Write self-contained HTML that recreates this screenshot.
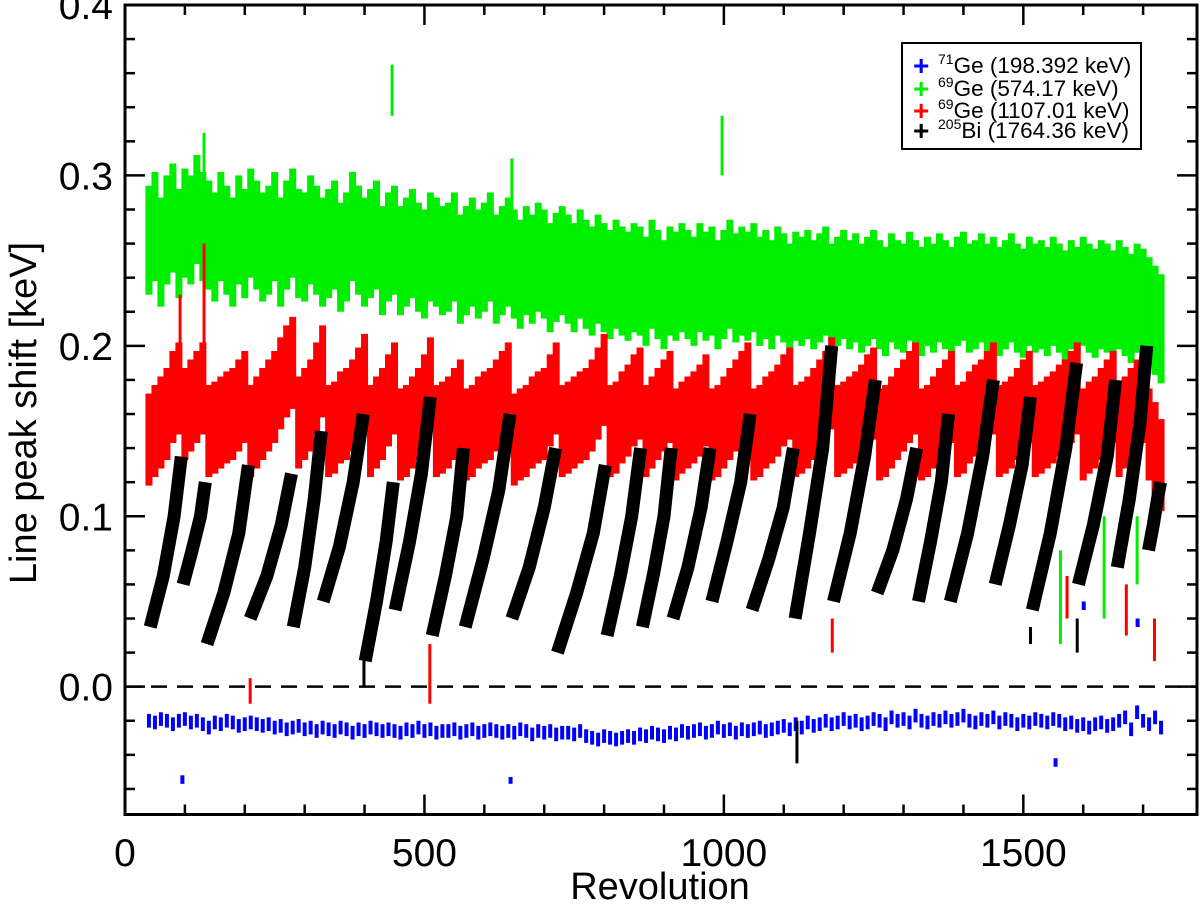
<!DOCTYPE html>
<html><head><meta charset="utf-8"><style>
html,body{margin:0;padding:0;background:#fff;}
svg{display:block;font-family:"Liberation Sans",Arial,sans-serif;}
.tl{font-size:39px;}
.ttl{font-size:38px;}
.lg{font-size:22.5px;}
.lgs{font-size:14px;}
.lgm{font-size:28px;font-weight:bold;}
</style></head><body>
<svg id="chart" width="1200" height="908" viewBox="0 0 1200 908" xmlns="http://www.w3.org/2000/svg">
<g id="series"></g>
<g id="axes"></g>
<text x="36" y="413" class="ttl" text-anchor="middle" transform="rotate(-90 36 413)">Line peak shift [keV]</text>
<text x="660" y="899" class="ttl" text-anchor="middle">Revolution</text>
<g>
<rect x="902" y="43" width="239" height="106" fill="#fff" stroke="#000" stroke-width="2"/>
<g><text x="913" y="75" fill="#0000ff" class="lgm">+</text><text x="938" y="73" class="lg"><tspan class="lgs" dy="-9">71</tspan><tspan dy="9">Ge (198.392 keV)</tspan></text></g>
<g><text x="913" y="98" fill="#00ee00" class="lgm">+</text><text x="938" y="96" class="lg"><tspan class="lgs" dy="-9">69</tspan><tspan dy="9">Ge (574.17 keV)</tspan></text></g>
<g><text x="913" y="120" fill="#ff0000" class="lgm">+</text><text x="938" y="118" class="lg"><tspan class="lgs" dy="-9">69</tspan><tspan dy="9">Ge (1107.01 keV)</tspan></text></g>
<g><text x="913" y="140" fill="#000" class="lgm">+</text><text x="938" y="138" class="lg"><tspan class="lgs" dy="-9">205</tspan><tspan dy="9">Bi (1764.36 keV)</tspan></text></g>
</g>
</svg>
<script>
const revs=[40,50,60,70,80,90,100,110,120,130,140,150,160,170,180,190,200,210,220,230,240,250,260,270,280,290,300,310,320,330,340,350,360,370,380,390,400,410,420,430,440,450,460,470,480,490,500,510,520,530,540,550,560,570,580,590,600,610,620,630,640,650,660,670,680,690,700,710,720,730,740,750,760,770,780,790,800,810,820,830,840,850,860,870,880,890,900,910,920,930,940,950,960,970,980,990,1000,1010,1020,1030,1040,1050,1060,1070,1080,1090,1100,1110,1120,1130,1140,1150,1160,1170,1180,1190,1200,1210,1220,1230,1240,1250,1260,1270,1280,1290,1300,1310,1320,1330,1340,1350,1360,1370,1380,1390,1400,1410,1420,1430,1440,1450,1460,1470,1480,1490,1500,1510,1520,1530,1540,1550,1560,1570,1580,1590,1600,1610,1620,1630,1640,1650,1660,1670,1680,1690,1700,1710,1720,1730];
const greenVals=[.262,.27,.255,.268,.275,.26,.272,.268,.28,.27,
.265,.258,.27,.262,.255,.268,.26,.272,.265,.258,
.262,.27,.255,.265,.272,.26,.258,.268,.262,.255,
.26,.265,.252,.258,.27,.262,.255,.26,.265,.25,
.258,.262,.25,.255,.26,.252,.248,.258,.255,.25,
.252,.258,.245,.25,.255,.248,.252,.258,.245,.25,
.255,.248,.242,.25,.245,.252,.248,.24,.246,.25,
.245,.24,.248,.242,.238,.245,.24,.236,.242,.238,
.235,.24,.238,.232,.242,.236,.23,.238,.235,.24,
.236,.232,.24,.235,.238,.23,.236,.242,.234,.238,
.235,.24,.232,.236,.23,.238,.234,.228,.235,.232,
.236,.23,.234,.238,.228,.232,.236,.23,.234,.228,
.232,.236,.23,.226,.234,.23,.228,.235,.23,.226,
.232,.228,.234,.23,.226,.232,.235,.228,.23,.234,
.228,.232,.226,.23,.234,.228,.225,.232,.228,.23,
.226,.232,.228,.224,.23,.226,.232,.228,.225,.23,
.228,.224,.23,.226,.222,.228,.225,.22,.215,.21];
const redVals=[.145,.15,.155,.16,.17,.175,.16,.165,.17,.175,
.15,.152,.155,.158,.16,.165,.17,.15,.155,.16,
.165,.17,.178,.185,.19,.155,.16,.165,.175,.185,
.15,.152,.158,.16,.165,.172,.18,.15,.155,.16,
.168,.175,.148,.15,.155,.16,.168,.178,.15,.152,
.155,.16,.165,.148,.15,.155,.158,.16,.165,.17,
.175,.145,.148,.15,.155,.158,.16,.168,.175,.15,
.152,.155,.158,.16,.165,.172,.18,.15,.152,.158,
.162,.168,.172,.15,.155,.16,.165,.17,.148,.152,
.155,.158,.162,.168,.148,.15,.155,.16,.165,.17,
.175,.148,.15,.155,.158,.162,.168,.172,.15,.152,
.155,.16,.165,.17,.178,.15,.152,.155,.158,.162,
.168,.172,.148,.15,.155,.16,.165,.17,.175,.148,
.15,.155,.16,.165,.17,.15,.152,.158,.162,.165,
.17,.175,.15,.152,.155,.16,.165,.17,.15,.152,
.155,.158,.162,.165,.17,.175,.148,.152,.155,.16,
.165,.17,.15,.155,.16,.165,.17,.148,.14,.13];
const blueVals=[-.02,-.021,-.019,-.02,-.022,-.02,-.019,-.021,-.02,-.022,
-.024,-.021,-.022,-.02,-.021,-.023,-.022,-.021,-.022,-.023,
-.022,-.024,-.023,-.025,-.024,-.023,-.025,-.024,-.026,-.024,
-.025,-.026,-.024,-.025,-.027,-.025,-.026,-.024,-.025,-.026,
-.025,-.026,-.027,-.025,-.026,-.024,-.026,-.025,-.027,-.026,
-.026,-.025,-.027,-.026,-.025,-.027,-.026,-.025,-.026,-.027,
-.026,-.027,-.025,-.026,-.028,-.026,-.027,-.026,-.028,-.027,
-.027,-.028,-.026,-.029,-.03,-.031,-.029,-.03,-.031,-.03,
-.029,-.03,-.028,-.029,-.027,-.028,-.029,-.027,-.028,-.026,
-.027,-.026,-.025,-.027,-.026,-.024,-.026,-.025,-.027,-.025,
-.026,-.025,-.024,-.026,-.025,-.024,-.023,-.025,-.022,-.024,
-.021,-.023,-.022,-.02,-.022,-.021,-.019,-.021,-.02,-.022,
-.021,-.019,-.02,-.022,-.018,-.02,-.019,-.021,-.017,-.02,
-.021,-.019,-.02,-.018,-.02,-.019,-.017,-.02,-.021,-.019,
-.02,-.018,-.021,-.019,-.02,-.022,-.02,-.021,-.019,-.02,
-.021,-.019,-.02,-.022,-.021,-.023,-.022,-.024,-.022,-.021,
-.023,-.022,-.02,-.018,-.025,-.015,-.02,-.022,-.018,-.024];
const blackRev=[42,64,82,94,null,97,112,126,134,null,137,165,190,206,null,209,237,261,278,null,281,300,316,328,null,331,358,381,398,null,401,420,436,448,null,451,475,495,510,null,513,535,554,565,null,568,598,624,643,null,646,675,700,719,null,722,754,782,802,null,805,827,846,861,null,864,883,900,912,null,915,940,962,977,null,980,1005,1028,1044,null,1047,1075,1099,1116,null,1119,1143,1165,1180,null,1183,1211,1235,1253,null,1256,1282,1305,1322,null,1325,1345,1363,1375,null,1378,1407,1432,1450,null,1453,1477,1498,1512,null,1515,1545,1571,1589,null,1592,1617,1640,1654,null,1657,1677,1695,1706,null,1709,1717,1724,1729];
const blackVal=[.035,.065,.1,.135,null,.06,.08,.1,.12,null,.025,.055,.09,.13,null,.04,.065,.095,.125,null,.035,.07,.11,.15,null,.05,.082,.12,.16,null,.015,.05,.085,.12,null,.045,.085,.125,.17,null,.03,.065,.1,.14,null,.035,.075,.115,.16,null,.04,.07,.105,.14,null,.02,.055,.09,.13,null,.03,.065,.1,.14,null,.035,.067,.1,.14,null,.04,.07,.105,.14,null,.05,.085,.12,.16,null,.045,.075,.105,.14,null,.04,.09,.14,.2,null,.05,.09,.135,.18,null,.055,.08,.11,.14,null,.05,.085,.12,.16,null,.05,.09,.135,.18,null,.06,.095,.13,.17,null,.045,.09,.14,.19,null,.06,.095,.135,.18,null,.07,.11,.155,.2,null,.08,.095,.11,.12];
const outRev=[446,997,646,132,92,132,209,509,1181,1719,1562,1573,1635,1512,1590,1122,399,1690,1672,95,643,1553,1600,1690];
const outLo=[.335,.3,.28,.28,.19,.2,-.01,-.01,.02,.015,.025,.04,.04,.025,.02,-.045,0,.06,.03,-.057,-.057,-.047,.045,.035];
const outHi=[.365,.335,.31,.325,.23,.26,.005,.025,.04,.04,.08,.065,.1,.035,.04,-.02,.025,.1,.06,-.052,-.053,-.042,.05,.04];
const outColor=["#00ee00","#00ee00","#00ee00","#00ee00","#ff0000","#ff0000","#ff0000","#ff0000","#ff0000","#ff0000","#00ee00","#ff0000","#00ee00","#000","#000","#000","#000","#00ee00","#ff0000","#0000ff","#0000ff","#0000ff","#0000ff","#0000ff"];
const xTicks=[0,500,1000,1500];
const yTicks=[0,0.1,0.2,0.3,0.4];
const yTickLabels=["0.0","0.1","0.2","0.3","0.4"];
const greenErr=0.032, redErr=0.027, blueErr=0.004;

const NS="http://www.w3.org/2000/svg";
const L=125,R=1197,T=5,B=814.5,XMAX=1790,YMIN=-0.075,YMAX=0.4;
function X(r){return L+(r/XMAX)*(R-L);}
function Y(v){return B-(v-YMIN)/(YMAX-YMIN)*(B-T);}
function mk(tag,attrs,parent){const e=document.createElementNS(NS,tag);for(const k in attrs)e.setAttribute(k,attrs[k]);parent.appendChild(e);return e;}
const S=document.getElementById('series'), A=document.getElementById('axes');

function bars(vals,err,color,w,name){
  const g=mk('g',{},S);
  
  
  for(let i=0;i<vals.length;i++){
    const y1=Y(vals[i]+err),y2=Y(vals[i]-err);
    const r=mk('rect',{x:X(revs[i])-w/2,y:y1,width:w,height:y2-y1,fill:color},g);
    
    
  }
}
bars(greenVals,greenErr,'#00ee00',7,'ge69-574-series');
bars(redVals,redErr,'#ff0000',7,'ge69-1107-series');

const bg=mk('g',{},S);


let pts=[];
function flush(){if(pts.length){const p=mk('polyline',{points:pts.join(' '),fill:'none',stroke:'#000','stroke-width':13,'stroke-linejoin':'round'},bg);

}pts=[];}
for(let i=0;i<blackRev.length;i++){
  if(blackRev[i]===null){flush();continue;}
  pts.push(X(blackRev[i]).toFixed(1)+','+Y(blackVal[i]).toFixed(1));
}
flush();

bars(blueVals,blueErr,'#0000ff',4,'ge71-series');

const og=mk('g',{},S);


for(let i=0;i<outRev.length;i++){
  const y1=Y(outHi[i]),y2=Y(outLo[i]);
  const r=mk('rect',{x:X(outRev[i])-1.5,y:y1,width:outColor[i]==='#0000ff'?4:3,height:y2-y1,fill:outColor[i]},og);
  
  
}

const z=mk('line',{x1:L,x2:R,y1:Y(0),y2:Y(0),stroke:'#000','stroke-width':2.5,'stroke-dasharray':'16,10'},A);


const fr=mk('rect',{x:L,y:T,width:R-L,height:B-T,fill:'none',stroke:'#000','stroke-width':3},A);


for(let r=0;r<=XMAX;r+=100){
  const big=(r%500===0), len=big?20:10, x=X(r);
  mk('line',{x1:x,x2:x,y1:B,y2:B-len,stroke:'#000','stroke-width':2.5},A);
  mk('line',{x1:x,x2:x,y1:T,y2:T+len,stroke:'#000','stroke-width':2.5},A);
}
xTicks.forEach(t=>{
  const tx=mk('text',{x:X(t),y:866,'text-anchor':'middle','class':'tl'},A);
  tx.textContent=String(t);
  
  
});
for(let k=-3;k<=20;k++){
  const v=k*0.02; if(v<YMIN-1e-9||v>YMAX+1e-9)continue;
  const big=(k%5===0), len=big?20:10, y=Y(v);
  mk('line',{x1:L,x2:L+len,y1:y,y2:y,stroke:'#000','stroke-width':2.5},A);
  mk('line',{x1:R,x2:R-len,y1:y,y2:y,stroke:'#000','stroke-width':2.5},A);
}
yTicks.forEach((t,i)=>{
  const tx=mk('text',{x:113,y:Y(t)+14,'text-anchor':'end','class':'tl'},A);
  tx.textContent=yTickLabels[i];
  
  
});
</script>
</body></html>
